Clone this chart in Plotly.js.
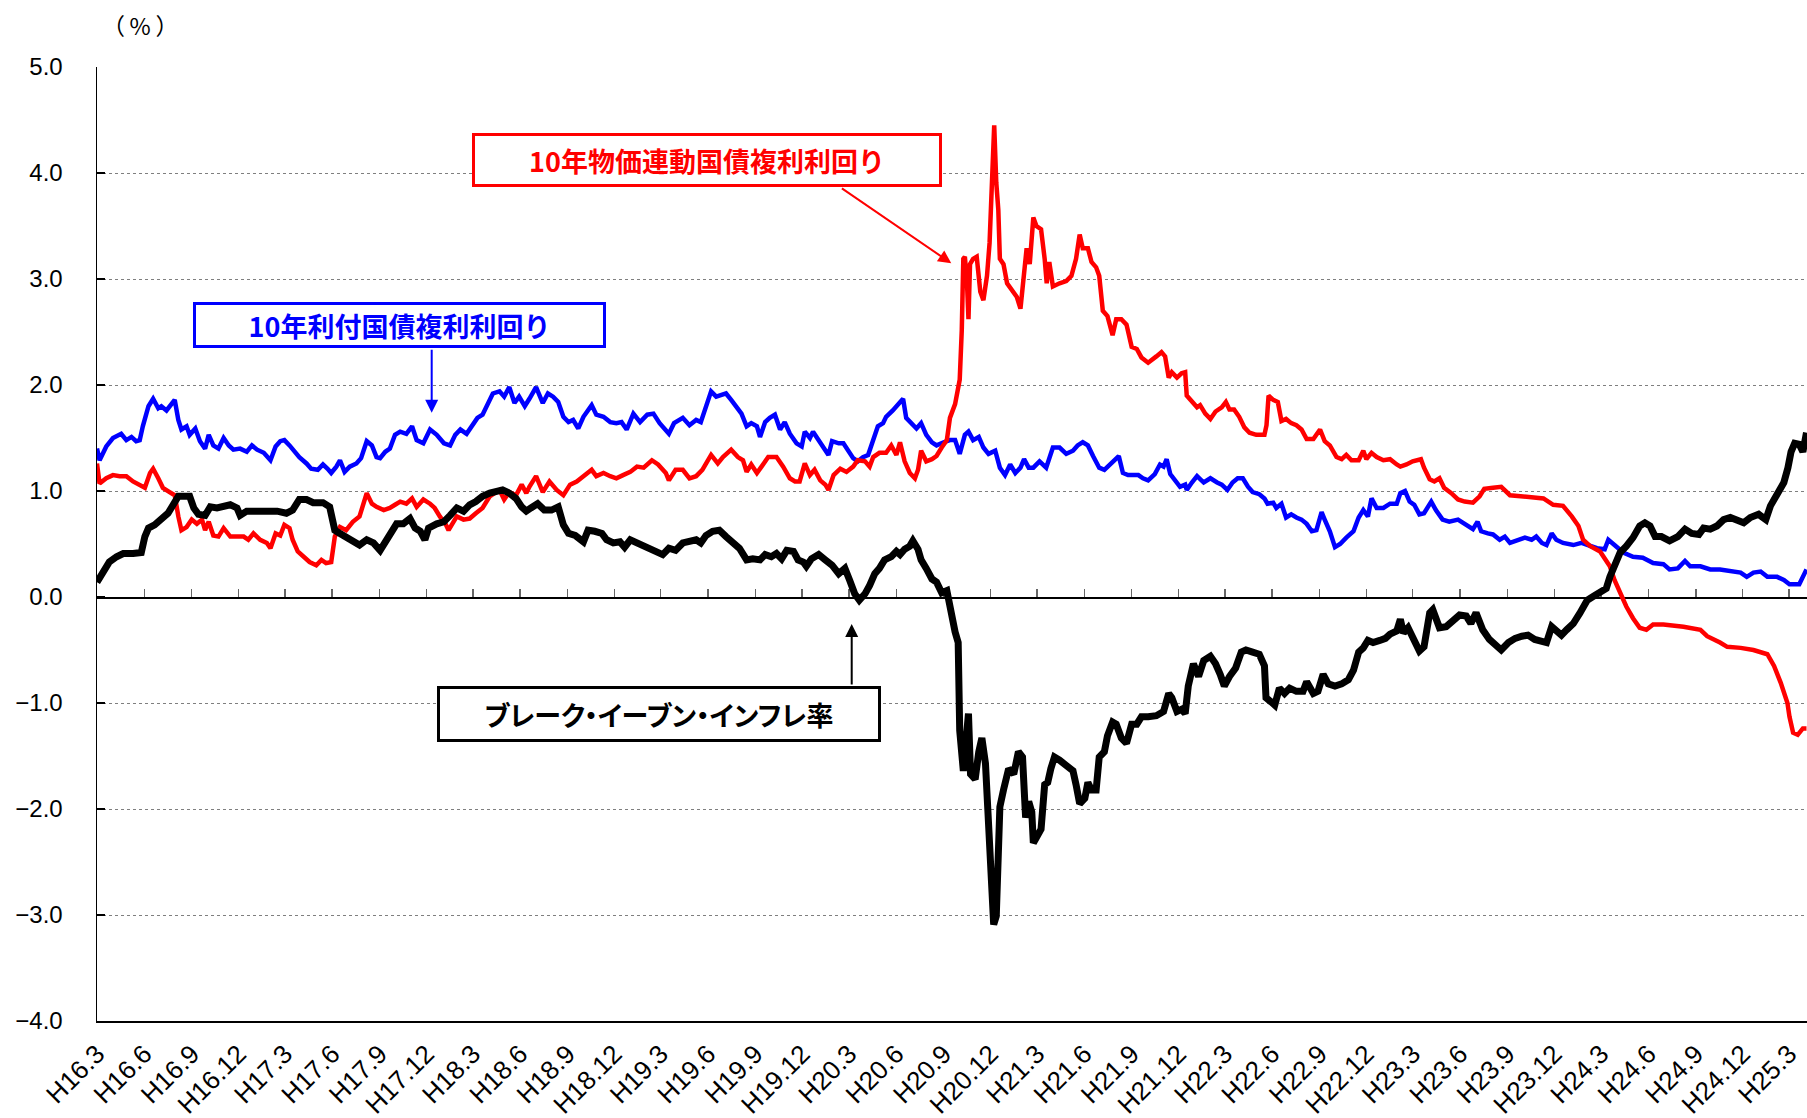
<!DOCTYPE html>
<html><head><meta charset="utf-8">
<script src="https://cdn.plot.ly/plotly-3.0.1.min.js"></script>
<style>
html,body{margin:0;padding:0;background:#fff;}
#chart{width:1807px;height:1118px;}
g.annotation[data-index="3"] text{font-feature-settings:"palt" 1;}
</style>
</head><body><div id="chart"></div>
<script>
// ---- data ----
const xStart = '2004-03-01';
const xEnd = '2013-04-05';
const quarterDates = ['2004-03-01','2004-06-01','2004-09-01','2004-12-01','2005-03-01','2005-06-01','2005-09-01','2005-12-01','2006-03-01','2006-06-01','2006-09-01','2006-12-01','2007-03-01','2007-06-01','2007-09-01','2007-12-01','2008-03-01','2008-06-01','2008-09-01','2008-12-01','2009-03-01','2009-06-01','2009-09-01','2009-12-01','2010-03-01','2010-06-01','2010-09-01','2010-12-01','2011-03-01','2011-06-01','2011-09-01','2011-12-01','2012-03-01','2012-06-01','2012-09-01','2012-12-01','2013-03-01'];
const quarterLabels = ['H16.3','H16.6','H16.9','H16.12','H17.3','H17.6','H17.9','H17.12','H18.3','H18.6','H18.9','H18.12','H19.3','H19.6','H19.9','H19.12','H20.3','H20.6','H20.9','H20.12','H21.3','H21.6','H21.9','H21.12','H22.3','H22.6','H22.9','H22.12','H23.3','H23.6','H23.9','H23.12','H24.3','H24.6','H24.9','H24.12','H25.3'];
const yTickVals = [5,4,3,2,1,0,-1,-2,-3,-4];
const yTickText = ['5.0','4.0','3.0','2.0','1.0','0.0','\u22121.0','\u22122.0','\u22123.0','\u22124.0'];
const unitLabel = '（\u2009%\u2009）';
const nominalName = '10年利付国債複利利回り';
const indexedName = '10年物価連動国債複利利回り';
const beiName = 'ブレーク・イーブン・インフレ率';

const blueDates = ['2004-03-01','2004-03-06','2004-03-19','2004-04-01','2004-04-17','2004-04-27','2004-05-07','2004-05-16','2004-05-23','2004-05-29','2004-06-09','2004-06-18','2004-06-28','2004-07-04','2004-07-14','2004-07-23','2004-07-30','2004-08-06','2004-08-12','2004-08-22','2004-08-28','2004-09-08','2004-09-17','2004-09-27','2004-10-04','2004-10-13','2004-10-23','2004-11-02','2004-11-12','2004-11-21','2004-12-04','2004-12-17','2004-12-27','2005-01-06','2005-01-19','2005-02-01','2005-02-11','2005-02-20','2005-02-28','2005-03-10','2005-03-20','2005-03-29','2005-04-12','2005-04-21','2005-05-04','2005-05-14','2005-05-23','2005-05-30','2005-06-09','2005-06-16','2005-06-25','2005-07-05','2005-07-18','2005-07-27','2005-08-07','2005-08-17','2005-08-26','2005-09-02','2005-09-12','2005-09-21','2005-10-01','2005-10-11','2005-10-23','2005-11-03','2005-11-12','2005-11-25','2005-12-08','2005-12-21','2006-01-04','2006-01-16','2006-01-26','2006-02-05','2006-02-17','2006-03-01','2006-03-10','2006-03-20','2006-03-30','2006-04-09','2006-04-22','2006-05-01','2006-05-11','2006-05-21','2006-05-30','2006-06-10','2006-06-19','2006-07-02','2006-07-15','2006-07-25','2006-08-04','2006-08-14','2006-08-24','2006-09-03','2006-09-12','2006-09-22','2006-10-02','2006-10-18','2006-10-27','2006-11-10','2006-11-23','2006-12-05','2006-12-15','2006-12-25','2007-01-07','2007-01-20','2007-02-03','2007-02-15','2007-02-27','2007-03-11','2007-03-17','2007-03-27','2007-04-13','2007-04-26','2007-05-09','2007-05-18','2007-05-28','2007-06-07','2007-06-17','2007-06-26','2007-07-06','2007-07-16','2007-07-26','2007-08-05','2007-08-15','2007-08-24','2007-09-04','2007-09-10','2007-09-20','2007-09-29','2007-10-09','2007-10-19','2007-10-28','2007-11-07','2007-11-20','2007-11-30','2007-12-06','2007-12-16','2007-12-22','2008-01-02','2008-01-11','2008-01-21','2008-01-28','2008-02-10','2008-02-19','2008-02-28','2008-03-09','2008-03-18','2008-03-28','2008-04-07','2008-04-17','2008-04-26','2008-05-06','2008-05-12','2008-05-25','2008-06-08','2008-06-14','2008-06-20','2008-06-30','2008-07-10','2008-07-19','2008-07-29','2008-08-09','2008-08-18','2008-09-01','2008-09-13','2008-09-23','2008-10-02','2008-10-12','2008-10-19','2008-10-28','2008-11-08','2008-11-17','2008-11-27','2008-12-10','2008-12-19','2008-12-29','2009-01-08','2009-01-18','2009-01-28','2009-02-04','2009-02-13','2009-02-22','2009-03-06','2009-03-19','2009-04-01','2009-04-14','2009-04-27','2009-05-10','2009-05-19','2009-05-29','2009-06-08','2009-06-18','2009-06-30','2009-07-10','2009-07-20','2009-07-29','2009-08-07','2009-08-15','2009-08-25','2009-09-04','2009-09-14','2009-09-23','2009-10-03','2009-10-16','2009-10-26','2009-11-02','2009-11-08','2009-11-15','2009-11-25','2009-12-04','2009-12-14','2009-12-17','2009-12-27','2010-01-06','2010-01-19','2010-02-01','2010-02-14','2010-02-23','2010-03-06','2010-03-16','2010-03-26','2010-04-05','2010-04-15','2010-04-24','2010-05-07','2010-05-17','2010-05-23','2010-06-03','2010-06-09','2010-06-19','2010-06-28','2010-07-08','2010-07-18','2010-07-28','2010-08-07','2010-08-17','2010-08-26','2010-09-05','2010-09-11','2010-09-21','2010-10-01','2010-10-11','2010-10-23','2010-11-06','2010-11-16','2010-11-25','2010-12-04','2010-12-11','2010-12-21','2011-01-03','2011-01-16','2011-01-29','2011-02-05','2011-02-14','2011-02-23','2011-03-04','2011-03-14','2011-03-23','2011-04-06','2011-04-15','2011-04-28','2011-05-11','2011-05-28','2011-06-13','2011-06-26','2011-07-05','2011-07-12','2011-07-25','2011-08-04','2011-08-17','2011-08-27','2011-09-06','2011-09-22','2011-10-05','2011-10-18','2011-10-27','2011-11-07','2011-11-16','2011-11-26','2011-12-05','2011-12-18','2012-01-07','2012-01-23','2012-02-03','2012-02-22','2012-03-08','2012-03-15','2012-03-27','2012-04-13','2012-05-02','2012-05-21','2012-06-10','2012-06-30','2012-07-12','2012-07-28','2012-08-11','2012-08-21','2012-09-10','2012-09-29','2012-10-18','2012-11-07','2012-11-27','2012-12-09','2012-12-22','2013-01-05','2013-01-18','2013-02-06','2013-02-19','2013-03-02','2013-03-21','2013-04-01','2013-04-04'];
const blueYield = [1.40,1.29,1.42,1.50,1.54,1.48,1.51,1.47,1.48,1.61,1.80,1.87,1.78,1.80,1.76,1.81,1.86,1.67,1.58,1.61,1.53,1.59,1.47,1.40,1.53,1.43,1.40,1.50,1.43,1.39,1.40,1.37,1.43,1.39,1.36,1.29,1.42,1.47,1.48,1.43,1.37,1.32,1.26,1.21,1.20,1.25,1.21,1.17,1.23,1.29,1.18,1.23,1.26,1.31,1.47,1.43,1.32,1.31,1.37,1.40,1.53,1.56,1.54,1.61,1.48,1.45,1.58,1.53,1.45,1.43,1.53,1.58,1.54,1.62,1.69,1.72,1.83,1.92,1.94,1.89,1.98,1.83,1.89,1.80,1.87,1.98,1.83,1.92,1.89,1.84,1.70,1.65,1.67,1.59,1.70,1.81,1.72,1.70,1.65,1.64,1.65,1.58,1.73,1.65,1.72,1.73,1.64,1.58,1.54,1.64,1.69,1.62,1.67,1.65,1.80,1.94,1.89,1.90,1.92,1.86,1.80,1.73,1.61,1.64,1.61,1.51,1.65,1.69,1.72,1.58,1.65,1.54,1.45,1.42,1.56,1.50,1.56,1.48,1.40,1.34,1.47,1.45,1.45,1.39,1.31,1.28,1.32,1.34,1.48,1.61,1.64,1.70,1.76,1.84,1.87,1.69,1.64,1.59,1.64,1.53,1.46,1.43,1.46,1.48,1.48,1.35,1.53,1.56,1.48,1.51,1.41,1.35,1.38,1.22,1.15,1.25,1.17,1.22,1.30,1.22,1.22,1.28,1.22,1.41,1.41,1.35,1.38,1.43,1.46,1.43,1.33,1.22,1.20,1.25,1.28,1.33,1.17,1.15,1.15,1.15,1.12,1.10,1.16,1.25,1.23,1.30,1.16,1.10,1.04,1.06,1.01,1.08,1.14,1.08,1.12,1.08,1.06,1.01,1.08,1.12,1.12,1.04,0.99,0.97,0.93,0.88,0.89,0.84,0.88,0.75,0.78,0.75,0.73,0.69,0.62,0.63,0.80,0.73,0.62,0.47,0.50,0.56,0.62,0.75,0.82,0.76,0.93,0.84,0.84,0.88,0.88,0.98,1.00,0.90,0.87,0.78,0.79,0.90,0.82,0.73,0.71,0.73,0.68,0.64,0.71,0.62,0.60,0.59,0.54,0.57,0.51,0.54,0.56,0.54,0.57,0.51,0.49,0.60,0.54,0.51,0.49,0.51,0.49,0.46,0.45,0.54,0.49,0.42,0.38,0.37,0.32,0.31,0.26,0.27,0.34,0.29,0.29,0.26,0.26,0.24,0.23,0.19,0.23,0.24,0.19,0.19,0.16,0.12,0.12,0.23,0.26];

const redDates = ['2004-03-01','2004-03-06','2004-03-19','2004-04-01','2004-04-14','2004-04-27','2004-05-10','2004-05-23','2004-06-02','2004-06-12','2004-06-18','2004-06-28','2004-07-07','2004-07-20','2004-07-30','2004-08-06','2004-08-12','2004-08-22','2004-09-01','2004-09-11','2004-09-21','2004-09-27','2004-10-04','2004-10-13','2004-10-23','2004-11-02','2004-11-15','2004-11-28','2004-12-11','2004-12-20','2004-12-30','2005-01-12','2005-01-25','2005-02-01','2005-02-11','2005-02-20','2005-02-28','2005-03-10','2005-03-16','2005-03-26','2005-04-05','2005-04-18','2005-05-01','2005-05-11','2005-05-20','2005-05-30','2005-06-06','2005-06-16','2005-06-28','2005-07-11','2005-07-24','2005-08-04','2005-08-07','2005-08-17','2005-08-26','2005-09-09','2005-09-21','2005-10-01','2005-10-11','2005-10-23','2005-11-03','2005-11-12','2005-11-25','2005-12-08','2005-12-17','2005-12-27','2006-01-07','2006-01-13','2006-01-20','2006-01-29','2006-02-11','2006-02-23','2006-03-07','2006-03-20','2006-04-03','2006-04-12','2006-04-22','2006-05-01','2006-05-11','2006-05-24','2006-06-04','2006-06-13','2006-06-19','2006-07-02','2006-07-15','2006-07-28','2006-08-11','2006-08-24','2006-09-06','2006-09-19','2006-10-02','2006-10-18','2006-10-27','2006-11-10','2006-11-23','2006-12-05','2006-12-18','2007-01-01','2007-01-14','2007-01-27','2007-02-12','2007-02-24','2007-03-11','2007-03-17','2007-03-30','2007-04-13','2007-04-26','2007-05-09','2007-05-21','2007-06-07','2007-06-20','2007-06-30','2007-07-16','2007-07-29','2007-08-08','2007-08-15','2007-08-24','2007-09-04','2007-09-13','2007-09-26','2007-10-12','2007-10-25','2007-11-07','2007-11-17','2007-11-26','2007-12-06','2007-12-16','2007-12-25','2008-01-05','2008-01-15','2008-01-21','2008-01-31','2008-02-13','2008-02-25','2008-03-09','2008-03-18','2008-04-01','2008-04-10','2008-04-17','2008-04-29','2008-05-12','2008-05-22','2008-06-01','2008-06-08','2008-06-17','2008-06-27','2008-07-07','2008-07-13','2008-07-19','2008-07-29','2008-08-09','2008-08-18','2008-08-28','2008-09-07','2008-09-13','2008-09-23','2008-10-02','2008-10-06','2008-10-09','2008-10-12','2008-10-16','2008-10-19','2008-10-22','2008-10-28','2008-11-04','2008-11-11','2008-11-17','2008-11-24','2008-11-29','2008-12-03','2008-12-08','2008-12-12','2008-12-16','2008-12-19','2008-12-26','2009-01-02','2009-01-12','2009-01-21','2009-01-28','2009-02-03','2009-02-09','2009-02-15','2009-02-19','2009-02-22','2009-02-28','2009-03-09','2009-03-16','2009-03-20','2009-03-25','2009-04-01','2009-04-14','2009-04-27','2009-05-07','2009-05-16','2009-05-23','2009-05-29','2009-06-08','2009-06-15','2009-06-24','2009-06-30','2009-07-07','2009-07-16','2009-07-26','2009-08-02','2009-08-12','2009-08-22','2009-09-01','2009-09-11','2009-09-20','2009-10-03','2009-10-19','2009-10-29','2009-11-05','2009-11-12','2009-11-18','2009-11-28','2009-12-07','2009-12-14','2009-12-17','2009-12-27','2010-01-06','2010-01-12','2010-01-22','2010-02-01','2010-02-11','2010-02-23','2010-03-03','2010-03-10','2010-03-19','2010-03-29','2010-04-08','2010-04-18','2010-05-01','2010-05-17','2010-05-21','2010-05-25','2010-06-03','2010-06-12','2010-06-19','2010-06-28','2010-07-08','2010-07-18','2010-07-28','2010-08-07','2010-08-20','2010-09-02','2010-09-11','2010-09-21','2010-10-04','2010-10-14','2010-10-23','2010-11-02','2010-11-16','2010-11-25','2010-12-01','2010-12-11','2010-12-21','2011-01-03','2011-01-16','2011-01-29','2011-02-05','2011-02-17','2011-03-01','2011-03-17','2011-03-23','2011-04-03','2011-04-12','2011-04-22','2011-05-01','2011-05-15','2011-05-28','2011-06-10','2011-06-26','2011-07-09','2011-07-18','2011-08-04','2011-08-20','2011-09-06','2011-10-08','2011-11-10','2011-11-29','2011-12-18','2012-01-04','2012-01-17','2012-01-26','2012-02-09','2012-02-28','2012-03-18','2012-03-27','2012-04-07','2012-04-19','2012-05-02','2012-05-15','2012-05-28','2012-06-10','2012-06-30','2012-08-08','2012-09-10','2012-09-23','2012-10-18','2012-11-01','2012-11-27','2012-12-22','2013-01-18','2013-01-31','2013-02-13','2013-02-26','2013-03-02','2013-03-09','2013-03-18','2013-03-28','2013-04-04'];
const redYield = [1.26,1.07,1.12,1.15,1.14,1.14,1.09,1.06,1.03,1.17,1.21,1.12,1.03,0.99,0.96,0.76,0.63,0.66,0.73,0.69,0.73,0.63,0.71,0.58,0.57,0.65,0.57,0.57,0.57,0.54,0.60,0.54,0.51,0.46,0.60,0.58,0.68,0.65,0.54,0.43,0.38,0.33,0.30,0.35,0.32,0.33,0.57,0.66,0.63,0.71,0.76,0.92,0.98,0.88,0.85,0.82,0.84,0.87,0.90,0.88,0.93,0.85,0.92,0.88,0.84,0.76,0.69,0.63,0.69,0.76,0.73,0.74,0.79,0.84,0.95,0.98,1.01,0.92,0.99,0.96,1.06,0.98,1.04,1.14,0.99,1.09,1.01,0.96,1.06,1.09,1.14,1.20,1.14,1.17,1.14,1.12,1.15,1.18,1.23,1.22,1.29,1.25,1.17,1.10,1.20,1.20,1.12,1.14,1.20,1.34,1.26,1.32,1.39,1.32,1.29,1.18,1.25,1.17,1.23,1.32,1.32,1.23,1.12,1.09,1.09,1.26,1.15,1.20,1.10,1.06,1.01,1.15,1.21,1.18,1.23,1.29,1.28,1.23,1.32,1.36,1.36,1.43,1.34,1.46,1.28,1.17,1.12,1.20,1.38,1.28,1.30,1.33,1.41,1.48,1.69,1.82,2.05,2.52,3.19,3.21,2.98,2.62,3.14,3.19,3.21,2.88,2.80,3.03,3.34,3.86,4.45,3.91,3.65,3.19,3.14,2.96,2.90,2.83,2.72,3.03,3.29,3.14,3.40,3.58,3.50,3.47,3.19,2.96,3.16,2.93,2.96,2.98,3.03,3.19,3.42,3.29,3.29,3.16,3.11,3.03,2.70,2.65,2.47,2.62,2.62,2.57,2.36,2.34,2.26,2.21,2.27,2.31,2.27,2.07,2.12,2.07,2.11,2.12,1.90,1.84,1.79,1.81,1.73,1.68,1.75,1.79,1.84,1.77,1.77,1.70,1.60,1.55,1.53,1.53,1.62,1.90,1.86,1.84,1.66,1.68,1.64,1.62,1.58,1.49,1.49,1.58,1.47,1.43,1.32,1.30,1.34,1.29,1.29,1.38,1.30,1.36,1.32,1.29,1.30,1.25,1.23,1.25,1.28,1.30,1.22,1.11,1.09,1.12,1.03,0.98,0.92,0.90,0.89,0.95,1.02,1.03,1.04,0.96,0.95,0.93,0.87,0.86,0.76,0.67,0.54,0.48,0.43,0.29,0.16,0.04,-0.09,-0.20,-0.29,-0.31,-0.26,-0.26,-0.28,-0.31,-0.37,-0.43,-0.47,-0.48,-0.50,-0.54,-0.65,-0.81,-1.00,-1.13,-1.28,-1.30,-1.24,-1.24];

const beiDates = ['2004-03-01','2004-03-12','2004-03-25','2004-04-08','2004-04-21','2004-05-10','2004-05-26','2004-06-02','2004-06-09','2004-06-21','2004-07-04','2004-07-17','2004-07-27','2004-08-06','2004-08-19','2004-08-28','2004-09-05','2004-09-14','2004-09-27','2004-10-07','2004-10-20','2004-11-02','2004-11-15','2004-11-28','2004-12-04','2004-12-17','2005-01-06','2005-01-25','2005-02-14','2005-03-04','2005-03-16','2005-03-29','2005-04-12','2005-04-25','2005-05-14','2005-05-27','2005-06-06','2005-06-16','2005-06-28','2005-07-11','2005-07-24','2005-08-07','2005-08-20','2005-09-02','2005-09-12','2005-09-25','2005-10-04','2005-10-17','2005-10-30','2005-11-09','2005-11-19','2005-11-28','2005-12-05','2005-12-21','2006-01-04','2006-01-16','2006-01-29','2006-02-11','2006-02-23','2006-03-07','2006-03-20','2006-04-03','2006-04-16','2006-04-28','2006-05-11','2006-05-24','2006-06-04','2006-06-13','2006-06-22','2006-07-05','2006-07-18','2006-08-01','2006-08-14','2006-08-24','2006-09-03','2006-09-16','2006-10-02','2006-10-11','2006-10-24','2006-11-07','2006-11-16','2006-11-29','2006-12-12','2006-12-21','2007-01-01','2007-01-14','2007-01-27','2007-02-09','2007-02-21','2007-03-05','2007-03-17','2007-03-30','2007-04-13','2007-04-26','2007-05-09','2007-05-18','2007-05-28','2007-06-10','2007-06-23','2007-07-06','2007-07-19','2007-08-01','2007-08-15','2007-08-27','2007-09-10','2007-09-20','2007-10-02','2007-10-12','2007-10-22','2007-11-01','2007-11-14','2007-11-23','2007-12-03','2007-12-09','2007-12-19','2008-01-02','2008-01-15','2008-01-28','2008-02-10','2008-02-22','2008-03-02','2008-03-12','2008-03-21','2008-04-01','2008-04-10','2008-04-20','2008-04-29','2008-05-09','2008-05-22','2008-06-01','2008-06-08','2008-06-17','2008-06-27','2008-07-03','2008-07-13','2008-07-19','2008-07-29','2008-08-09','2008-08-18','2008-08-28','2008-09-07','2008-09-12','2008-09-16','2008-09-23','2008-09-29','2008-10-02','2008-10-09','2008-10-14','2008-10-19','2008-10-23','2008-11-01','2008-11-08','2008-11-14','2008-11-21','2008-11-27','2008-12-01','2008-12-07','2008-12-12','2008-12-16','2008-12-19','2008-12-26','2009-01-05','2009-01-15','2009-01-24','2009-02-01','2009-02-07','2009-02-13','2009-02-19','2009-02-22','2009-02-28','2009-03-09','2009-03-16','2009-03-22','2009-03-28','2009-04-04','2009-04-14','2009-04-27','2009-05-10','2009-05-16','2009-05-23','2009-06-02','2009-06-08','2009-06-15','2009-06-24','2009-06-30','2009-07-10','2009-07-16','2009-07-26','2009-08-02','2009-08-12','2009-08-22','2009-09-01','2009-09-11','2009-09-20','2009-10-03','2009-10-19','2009-11-02','2009-11-12','2009-11-18','2009-11-28','2009-12-07','2009-12-14','2009-12-20','2009-12-30','2010-01-09','2010-01-19','2010-02-01','2010-02-11','2010-02-20','2010-02-28','2010-03-10','2010-03-22','2010-04-02','2010-04-11','2010-04-24','2010-05-07','2010-05-17','2010-05-20','2010-05-30','2010-06-06','2010-06-15','2010-06-25','2010-07-05','2010-07-18','2010-07-31','2010-08-07','2010-08-20','2010-08-29','2010-09-08','2010-09-18','2010-10-01','2010-10-14','2010-10-27','2010-11-06','2010-11-16','2010-11-25','2010-12-04','2010-12-14','2010-12-27','2011-01-07','2011-01-16','2011-01-29','2011-02-05','2011-02-11','2011-02-20','2011-03-04','2011-03-14','2011-03-23','2011-04-03','2011-04-09','2011-04-22','2011-05-05','2011-05-18','2011-05-31','2011-06-13','2011-06-22','2011-07-02','2011-07-15','2011-07-28','2011-08-11','2011-08-20','2011-09-03','2011-09-16','2011-09-29','2011-10-11','2011-10-24','2011-11-04','2011-11-16','2011-11-26','2011-12-05','2011-12-15','2011-12-25','2012-01-07','2012-01-20','2012-02-03','2012-02-16','2012-02-28','2012-03-11','2012-03-18','2012-03-27','2012-04-07','2012-04-19','2012-05-02','2012-05-15','2012-05-25','2012-06-04','2012-06-14','2012-06-26','2012-07-12','2012-07-28','2012-08-11','2012-08-24','2012-09-07','2012-09-16','2012-09-29','2012-10-12','2012-10-25','2012-11-07','2012-11-20','2012-12-03','2012-12-16','2013-01-01','2013-01-15','2013-01-24','2013-02-06','2013-02-19','2013-02-27','2013-03-05','2013-03-12','2013-03-21','2013-03-28','2013-04-04'];
const beiRate = [0.14,0.24,0.33,0.38,0.41,0.41,0.42,0.57,0.65,0.68,0.73,0.79,0.87,0.95,0.95,0.95,0.84,0.78,0.77,0.85,0.84,0.85,0.87,0.84,0.77,0.81,0.81,0.81,0.81,0.79,0.82,0.92,0.92,0.89,0.89,0.85,0.63,0.60,0.57,0.52,0.49,0.54,0.51,0.44,0.52,0.63,0.69,0.69,0.74,0.65,0.62,0.54,0.65,0.69,0.71,0.77,0.84,0.81,0.87,0.90,0.95,0.98,0.99,1.01,0.98,0.93,0.85,0.81,0.84,0.88,0.82,0.82,0.85,0.68,0.60,0.58,0.52,0.63,0.62,0.60,0.54,0.51,0.52,0.47,0.54,0.51,0.49,0.46,0.43,0.40,0.46,0.44,0.51,0.52,0.54,0.51,0.58,0.62,0.63,0.57,0.52,0.46,0.35,0.36,0.35,0.40,0.38,0.41,0.36,0.44,0.43,0.35,0.33,0.29,0.36,0.40,0.35,0.30,0.22,0.27,0.16,0.03,-0.03,0.03,0.11,0.22,0.27,0.35,0.38,0.43,0.40,0.45,0.48,0.53,0.45,0.35,0.27,0.17,0.14,0.04,0.06,-0.07,-0.22,-0.33,-0.43,-1.26,-1.64,-1.41,-1.10,-1.67,-1.72,-1.46,-1.33,-1.57,-2.19,-2.71,-3.09,-3.01,-2.44,-1.98,-1.82,-1.62,-1.67,-1.46,-1.51,-2.08,-1.93,-2.03,-2.32,-2.26,-2.19,-1.77,-1.75,-1.62,-1.51,-1.54,-1.59,-1.64,-1.77,-1.95,-1.90,-1.75,-1.82,-1.82,-1.51,-1.46,-1.31,-1.18,-1.20,-1.33,-1.38,-1.20,-1.20,-1.13,-1.13,-1.12,-1.08,-0.91,-0.95,-1.08,-1.06,-1.10,-0.84,-0.63,-0.75,-0.60,-0.56,-0.63,-0.73,-0.84,-0.75,-0.67,-0.52,-0.50,-0.52,-0.54,-0.65,-0.95,-0.99,-1.02,-0.86,-0.91,-0.86,-0.89,-0.89,-0.80,-0.91,-0.89,-0.73,-0.82,-0.84,-0.82,-0.78,-0.69,-0.52,-0.48,-0.41,-0.43,-0.41,-0.39,-0.35,-0.32,-0.21,-0.34,-0.29,-0.40,-0.51,-0.47,-0.15,-0.12,-0.29,-0.28,-0.23,-0.17,-0.18,-0.25,-0.15,-0.31,-0.40,-0.45,-0.50,-0.43,-0.39,-0.37,-0.36,-0.40,-0.42,-0.43,-0.28,-0.32,-0.36,-0.31,-0.25,-0.15,-0.03,0.01,0.04,0.08,0.19,0.29,0.42,0.48,0.56,0.67,0.70,0.67,0.57,0.57,0.53,0.57,0.64,0.60,0.59,0.65,0.64,0.67,0.73,0.75,0.73,0.70,0.75,0.78,0.73,0.86,0.97,1.08,1.22,1.37,1.45,1.44,1.37,1.55];

// ---- chart ----
const traces = [
  {x: blueDates, y: blueYield, name: nominalName, type: 'scatter', mode: 'lines',
   line: {color: '#0000FF', width: 4.5}, hoverinfo: 'x+y'},
  {x: redDates, y: redYield, name: indexedName, type: 'scatter', mode: 'lines',
   line: {color: '#FF0000', width: 4.5}, hoverinfo: 'x+y'},
  {x: beiDates, y: beiRate, name: beiName, type: 'scatter', mode: 'lines',
   line: {color: '#000000', width: 7}, hoverinfo: 'x+y'},
  {x: [xStart], y: [null], xaxis: 'x2', yaxis: 'y', type: 'scatter', mode: 'lines',
   showlegend: false, hoverinfo: 'skip'}
];

const boxFont = 'Noto Sans CJK JP, sans-serif';
const layout = {
  width: 1807, height: 1118,
  margin: {l: 97, r: 0, t: 67, b: 97, pad: 0},
  paper_bgcolor: '#ffffff', plot_bgcolor: '#ffffff',
  showlegend: false,
  font: {family: 'Liberation Sans, Arial, sans-serif', size: 24, color: '#000'},
  xaxis: {
    type: 'date', range: [xStart, xEnd], tickmode: 'array',
    tickvals: quarterDates, ticktext: quarterLabels, tickangle: -45,
    ticks: '', showgrid: false, zeroline: false,
    showline: true, linecolor: '#000', linewidth: 1.5,
    tickfont: {size: 26, color: '#000'}, ticklabelstandoff: 6
  },
  xaxis2: {
    type: 'date', range: [xStart, xEnd], overlaying: 'x', anchor: 'free', position: 4/9,
    tickmode: 'array', tickvals: quarterDates, ticks: 'inside', ticklen: 8, tickwidth: 1.5,
    tickcolor: '#666', showticklabels: false, showgrid: false, zeroline: false,
    showline: true, linecolor: '#000', linewidth: 1.5, layer: 'below traces'
  },
  yaxis: {
    range: [-4, 5], tickmode: 'array', tickvals: yTickVals, ticktext: yTickText,
    ticks: 'inside', ticklen: 8, tickwidth: 1.5, tickcolor: '#000',
    showline: true, linecolor: '#000', linewidth: 1.5,
    showgrid: true, gridcolor: '#7f7f7f', griddash: 'dot', gridwidth: 1,
    zeroline: false, tickfont: {size: 24, color: '#000'}, ticklabelstandoff: 28
  },
  annotations: [
    {text: unitLabel, xref: 'paper', yref: 'paper', x: 0.02515, y: 1.04403,
     xanchor: 'center', yanchor: 'middle', showarrow: false,
     font: {family: boxFont, size: 23, color: '#000'}},
    {text: '<b>' + indexedName + '</b>', xref: 'paper', yref: 'paper', x: 0.35658, y: 0.90252,
     xanchor: 'center', yanchor: 'middle', showarrow: false,
     font: {family: boxFont, size: 27, color: '#FF0000'},
     bordercolor: '#FF0000', borderwidth: 3, borderpad: 0, bgcolor: '#ffffff', width: 464, height: 48},
    {text: '<b>' + nominalName + '</b>', xref: 'paper', yref: 'paper', x: 0.17702, y: 0.72904,
     xanchor: 'center', yanchor: 'middle', showarrow: false,
     font: {family: boxFont, size: 27, color: '#0000FF'},
     bordercolor: '#0000FF', borderwidth: 3, borderpad: 0, bgcolor: '#ffffff', width: 407, height: 40},
    {text: '<b>' + beiName + '</b>', xref: 'paper', yref: 'paper', x: 0.32860, y: 0.32201,
     xanchor: 'center', yanchor: 'middle', showarrow: false,
     font: {family: boxFont, size: 27, color: '#000000'},
     bordercolor: '#000000', borderwidth: 3, borderpad: 0, bgcolor: '#ffffff', width: 438, height: 50},
    {text: '', xref: 'paper', yref: 'paper', x: 0.49959, y: 0.79423, showarrow: true,
     arrowhead: 2, arrowsize: 1.3, arrowwidth: 2, arrowcolor: '#FF0000', ax: -110.9, ay: -76, standoff: 0},
    {text: '', xref: 'paper', yref: 'paper', x: 0.19573, y: 0.63763, showarrow: true,
     arrowhead: 2, arrowsize: 1.3, arrowwidth: 2, arrowcolor: '#0000FF', ax: 0, ay: -64.4, standoff: 0},
    {text: '', xref: 'paper', yref: 'paper', x: 0.44135, y: 0.41614, showarrow: true,
     arrowhead: 2, arrowsize: 1.3, arrowwidth: 2, arrowcolor: '#000000', ax: 0, ay: 62, standoff: 0}
  ]
};

Plotly.newPlot('chart', traces, layout, {staticPlot: true, displayModeBar: false});
</script></body></html>
